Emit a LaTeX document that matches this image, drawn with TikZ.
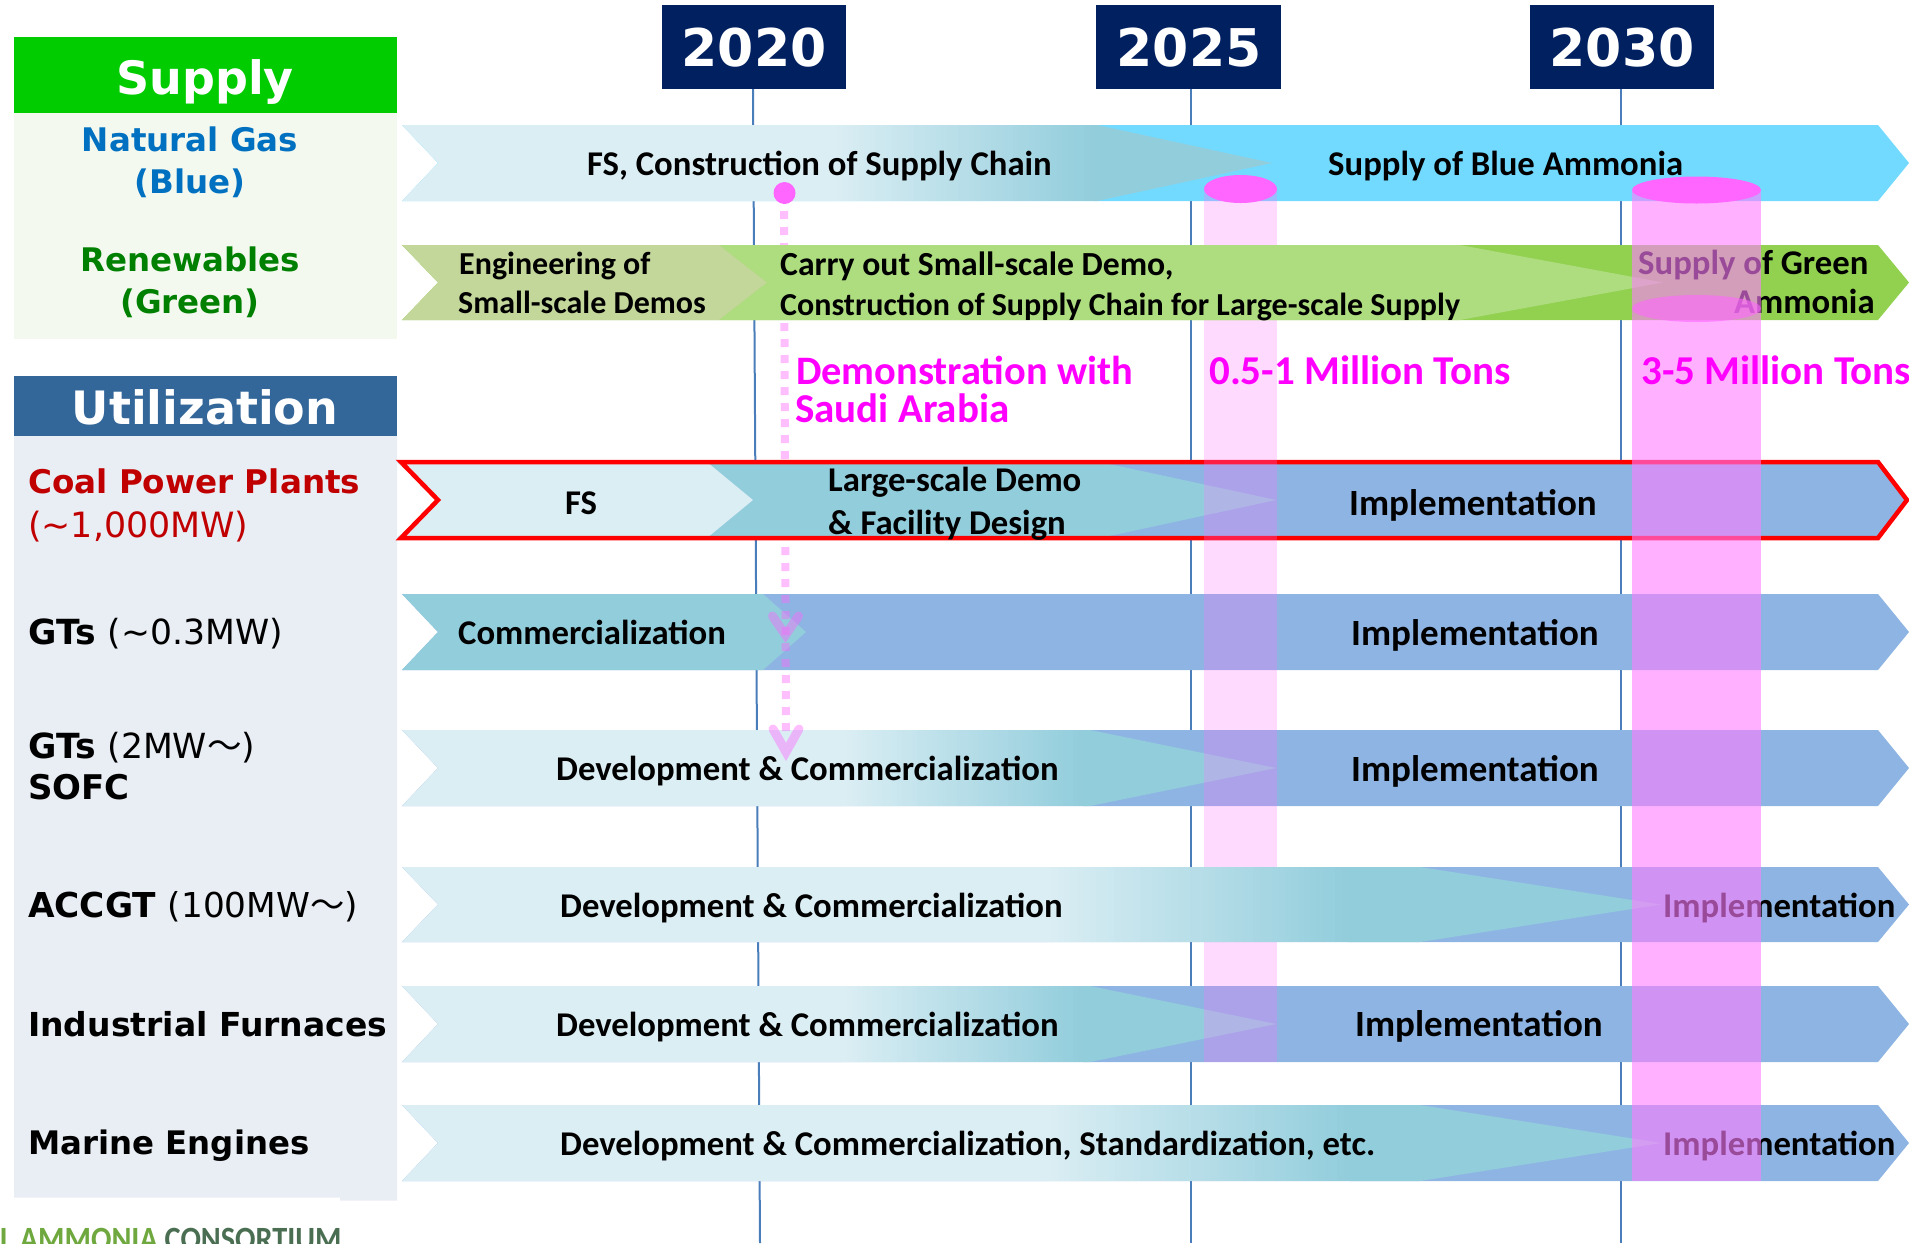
\documentclass[tikz,border=0pt]{standalone}
\usepackage{fontspec}
\setmainfont{DejaVu Sans}
\newfontfamily\barfont{Carlito}
\newfontfamily\cjk{Noto Sans CJK JP}
\definecolor{yearblue}{HTML}{002060}
\definecolor{lnblue}{HTML}{4A7EBB}
\definecolor{supgreen}{HTML}{00CC00}
\definecolor{supbg}{HTML}{F3F9EF}
\definecolor{utilhead}{HTML}{336699}
\definecolor{utilbg}{HTML}{E9EDF4}
\definecolor{paleblue}{HTML}{DBEEF4}
\definecolor{midblue}{HTML}{92CDDC}
\definecolor{impl}{HTML}{8EB4E3}
\definecolor{skyblue}{HTML}{73DAFF}
\definecolor{greenfull}{HTML}{92D050}
\definecolor{greenmid}{HTML}{AEDD7F}
\definecolor{greenold}{HTML}{C4D79B}
\definecolor{pinksolid}{HTML}{FF66FF}
\definecolor{tonpink}{HTML}{FF00FF}
\definecolor{natblue}{HTML}{0070C0}
\definecolor{rengreen}{HTML}{008000}
\definecolor{coalred}{HTML}{C00000}
\definecolor{logoa}{HTML}{6FA83E}
\definecolor{logob}{HTML}{4A6E52}
\tikzset{
  x=1pt,y=-1pt,
  yeartext/.style={text=white,font=\fontsize{52}{52}\selectfont\bfseries,inner sep=0pt},
  hdrtext/.style={text=white,font=\fontsize{46}{46}\selectfont\bfseries,inner sep=0pt,anchor=base},
  srctext/.style={font=\fontsize{32.5}{33}\selectfont\bfseries,inner sep=0pt,anchor=base},
  uselabel/.style={font=\fontsize{34}{34}\selectfont,inner sep=0pt,anchor=base west},
  boldlabel/.style={font=\fontsize{#1}{34}\selectfont\bfseries,inner sep=0pt,anchor=base west},
  bartext/.style={font=\barfont\fontsize{34.7}{34}\selectfont\bfseries,inner sep=0pt,anchor=base west},
  bartextsm/.style={font=\barfont\fontsize{32}{34}\selectfont\bfseries,inner sep=0pt,anchor=base west},
  impltext/.style={font=\barfont\fontsize{37}{34}\selectfont\bfseries,inner sep=0pt,anchor=base west},
  tontext/.style={text=tonpink,font=\barfont\fontsize{41}{41}\selectfont\bfseries,inner sep=0pt,anchor=base west},
  timeline/.style={draw=lnblue,line width=2pt},
  pinkdots/.style={draw=pinksolid,draw opacity=.42,line width=8pt,dash pattern=on 8pt off 8pt},
  pinkhead/.style={draw=pinksolid,draw opacity=.42,line width=9pt,line cap=round,line join=miter},
}
% notch-left, arrow-right bar: #1 top, #2 bottom, #3 left, #4 notch tip, #5 head start, #6 tip, #7 colour
\newcommand{\barshape}[7]{\fill[#7] (#3,#1) -- (#5,#1) -- (#6,{(#1+#2)/2}) -- (#5,#2) -- (#3,#2) -- (#4,{(#1+#2)/2}) -- cycle;}
% pale-to-mid gradient arrow: #1 top, #2 bottom, #3 grad start, #4 grad end, #5 head start, #6 tip
\newcommand{\gradbar}[6]{%
  \fill[paleblue] (402,#1) -- (#3+1,#1) -- (#3+1,#2) -- (402,#2) -- (438,{(#1+#2)/2}) -- cycle;
  \foreach \gi in {0,...,47}{%
    \pgfmathsetmacro{\gp}{(\gi+.5)*100/48}%
    \pgfmathsetmacro{\gx}{#3+\gi*(#4-#3)/48}%
    \pgfmathsetmacro{\gy}{#3+(\gi+1)*(#4-#3)/48+1}%
    \fill[midblue!\gp!paleblue] (\gx,#1) rectangle (\gy,#2);}
  \fill[midblue] (#4,#1) -- (#5,#1) -- (#6,{(#1+#2)/2}) -- (#5,#2) -- (#4,#2) -- cycle;}
\begin{document}
\begin{tikzpicture}
\useasboundingbox (0,0) rectangle (1909,1243);
% timelines
\draw[timeline] (753,85) -- (760,1243);
\draw[timeline] (1191,85) -- (1191,1243);
\draw[timeline] (1621,85) -- (1621,1243);
% year boxes
\fill[yearblue] (662,5) rectangle (846,89);
\fill[yearblue] (1096,5) rectangle (1281,89);
\fill[yearblue] (1530,5) rectangle (1714,89);
\node[yeartext] (y2020) at (754,48) {2020};
\node[yeartext] (y2025) at (1189,48) {2025};
\node[yeartext] (y2030) at (1622,48) {2030};
% left panels
\fill[supgreen] (14,37) rectangle (397,113);
\fill[supbg] (14,113) rectangle (397,339);
\fill[utilhead] (14,376) rectangle (397,436);
\fill[utilbg] (14,436) -- (397,436) -- (397,1200.5) -- (340,1200.5) -- (340,1197.5) -- (14,1197.5) -- cycle;
\node[hdrtext] (supply) at (205,94) {Supply};
\node[hdrtext] (utilization) at (205,424) {Utilization};
\node[srctext,text=natblue] (ng) at (190,151) {Natural Gas};
\node[srctext,text=natblue] (ngb) at (190,193) {(Blue)};
\node[srctext,text=rengreen] (ren) at (190,271) {Renewables};
\node[srctext,text=rengreen] (reng) at (190,313) {(Green)};
\node[boldlabel=32.6,text=coalred] (coal) at (28,493) {Coal Power Plants};
\node[uselabel,text=coalred,font=\fontsize{34.8}{34}\selectfont] (coalb) at (28,537) {(\textasciitilde1,000MW)};
\node[uselabel,font=\fontsize{34.6}{34}\selectfont] (gta) at (28,644) {\bfseries GTs\ \mdseries(\textasciitilde0.3MW)};
\node[uselabel,font=\fontsize{34.6}{34}\selectfont] (gtb) at (28,758) {\bfseries GTs\ \mdseries(2MW{\cjk ～})};
\node[boldlabel=34] (sofc) at (28,799) {SOFC};
\node[uselabel,font=\fontsize{34.3}{34}\selectfont] (accgt) at (28,917) {\bfseries ACCGT\ \mdseries(100MW{\cjk ～})};
\node[boldlabel=33] (furn) at (28,1036) {Industrial Furnaces};
\node[boldlabel=32.4] (marine) at (28,1154) {Marine Engines};
% logo text cut by the lower edge
\node[inner sep=0pt,anchor=base west,font=\barfont\fontsize{34}{34}\selectfont\bfseries] (logo) at (0,1250) {\scalebox{.89}[1]{\textcolor{logoa}{L AMMONIA} \textcolor{logob}{CONSORTIUM}}};
% rows 4, 5, 7, 8
\barshape{594}{670}{402}{438}{1878}{1909}{impl}
\barshape{594}{670}{402}{438}{763}{806}{midblue}
\barshape{730}{806}{402}{438}{1878}{1909}{impl}
\gradbar{730}{806}{842}{1083}{1090}{1276}
\barshape{986}{1062}{402}{438}{1878}{1909}{impl}
\gradbar{986}{1062}{842}{1083}{1090}{1276}
\barshape{1105}{1181}{402}{438}{1878}{1909}{impl}
\gradbar{1105}{1181}{1045}{1350}{1420}{1661}
% dotted demonstration arrows
\coordinate (dotstart) at (784,211);
\coordinate (dotend) at (786,733);
\coordinate (tipa) at (785.5,635);
\coordinate (tipb) at (786,752);
\draw[pinkdots] (dotstart) -- (dotend);
\draw[pinkhead] (772.5,616) -- (tipa) -- (798.5,616);
\draw[pinkhead] (773,729) -- (tipb) -- (799,729);
% row 1
\barshape{125}{201}{402}{438}{1878}{1909}{skyblue}
\gradbar{125}{201}{831}{1095}{1097}{1272}
% row 3
\barshape{462}{538}{397}{440}{1878}{1909}{impl}
\barshape{462}{538}{707}{753}{1100}{1276}{midblue}
\barshape{462}{538}{397}{440}{707}{753}{paleblue}
\draw[red,line width=4.5pt,line join=miter] (401,462) -- (1878,462) -- (1907,500) -- (1878,538) -- (401,538) -- (438,500) -- cycle;
% texts of rows under the first column
\node[bartext] (t1) at (587,175) {FS, Construction of Supply Chain};
\node[bartext] (t1b) at (1328,175) {Supply of Blue Ammonia};
\node[bartext] (t3a) at (565,514) {FS};
\node[bartext] (t3b) at (828,491) {Large-scale Demo};
\node[bartext] (t3c) at (828,534) {\& Facility Design};
\node[impltext] (t3d) at (1349,515) {Implementation};
\node[bartext] (t4a) at (458,644) {Commercialization};
\node[impltext] (t4b) at (1351,645) {Implementation};
\node[bartext] (t5a) at (556,780) {Development \& Commercialization};
\node[impltext] (t5b) at (1351,781) {Implementation};
\node[bartext] (t7a) at (556,1036) {Development \& Commercialization};
\node[impltext] (t7b) at (1355,1036) {Implementation};
\node[bartext] (t8a) at (560,1155) {Development \& Commercialization, Standardization, etc.};
\node[bartext] (t8b) at (1663,1155) {Implementation};
% first pink column
\fill[pinksolid!90!white,opacity=.27] (1204,189) rectangle (1277,1062);
\fill[pinksolid] (1240.5,189) ellipse[x radius=36.5,y radius=14];
% rows 2 and 6, in front of the first column
\barshape{245}{320}{402}{438}{1878}{1909}{greenfull}
\barshape{245}{320}{719}{767}{1460}{1663}{greenmid}
\barshape{245}{320}{402}{438}{719}{767}{greenold}
\barshape{867}{942}{402}{438}{1878}{1909}{impl}
\gradbar{867}{942}{1045}{1348}{1420}{1661}
\node[bartextsm] (t2a) at (459,274) {Engineering of};
\node[bartextsm] (t2b) at (458,313) {Small-scale Demos};
\node[font=\barfont\fontsize{33.7}{34}\selectfont\bfseries,inner sep=0pt,anchor=base west] (t2c) at (780,275) {Carry out Small-scale Demo,};
\node[bartextsm] (t2d) at (780,315) {Construction of Supply Chain for Large-scale Supply};
\node[bartext] (t2e) at (1638,274) {Supply of Green};
\node[bartext] (t2f) at (1734,313) {Ammonia};
\node[bartext] (t6a) at (560,917) {Development \& Commercialization};
\node[bartext] (t6b) at (1663,917) {Implementation};
% circle and demonstration label
\fill[pinksolid] (784.5,193) circle[radius=11];
\node[tontext,font=\barfont\fontsize{40.4}{41}\selectfont\bfseries] (d1) at (796,384) {Demonstration with};
\node[tontext] (d2) at (795,422) {Saudi Arabia};
% second pink column
\fill[pinksolid!85!white,opacity=.6] (1632,190) rectangle (1761,1181);
\fill[pinksolid] (1696.5,190) ellipse[x radius=64.5,y radius=13.5];
\fill[pinksolid,opacity=.6] (1696.5,308.5) ellipse[x radius=64.5,y radius=13.5];
\node[tontext] (m1) at (1209,384) {0.5-1 Million Tons};
\node[tontext] (m2) at (1641,384) {3-5 Million Tons};
\end{tikzpicture}
\end{document}
